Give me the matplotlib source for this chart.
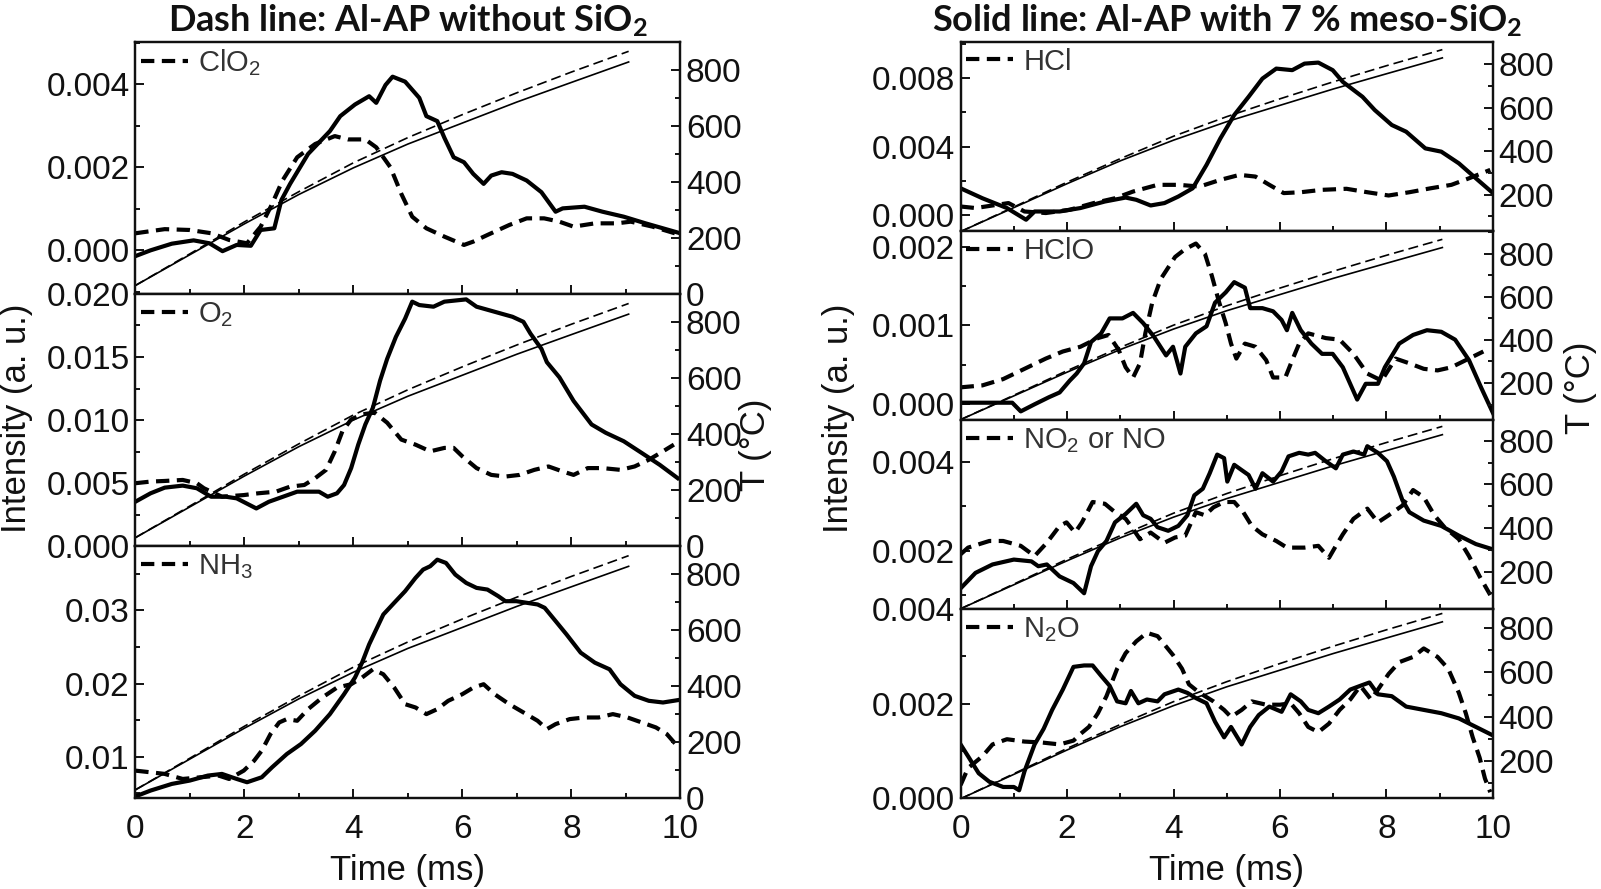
import numpy as np
import matplotlib
matplotlib.use("Agg")
import matplotlib.pyplot as plt
from matplotlib.ticker import MultipleLocator, FormatStrFormatter

plt.rcParams['font.family'] = ['Liberation Sans', 'DejaVu Sans']
plt.rcParams['mathtext.fontset'] = 'custom'
plt.rcParams['mathtext.rm'] = 'Liberation Sans'

# ── temperature profiles (thin lines, right axis) ─────────────────────────
t_temp = [0, 1, 2, 3, 4, 5, 6, 7, 8, 9.05]
temp_with = [30, 140, 250, 355, 450, 535, 610, 685, 755, 828]
temp_without = [30, 143, 257, 365, 468, 558, 640, 718, 792, 866]

# ── ClO2 ──────────────────────────────────────────────────────────────────
clo2_x_dash = [0, 0.54, 1.0, 1.4, 1.72, 2.05, 2.3, 2.5, 2.7, 2.97, 3.3, 3.66, 3.9, 4.22, 4.42, 4.68,
               4.88, 5.08, 5.34, 5.67, 6.03, 6.2, 6.46, 6.86, 7.18, 7.5, 7.78, 8.04, 8.43, 8.83,
               9.09, 9.49, 10]
clo2_dash = [0.41, 0.51, 0.49, 0.41, 0.25, 0.17, 0.57, 1.09, 1.68, 2.24, 2.56, 2.75, 2.67, 2.67,
             2.48, 2.0, 1.36, 0.81, 0.53, 0.33, 0.13, 0.21, 0.37, 0.61, 0.77, 0.77, 0.69, 0.57,
             0.65, 0.65, 0.69, 0.57, 0.37]
clo2_x_solid = [0, 0.28, 0.67, 1.07, 1.36, 1.6, 1.86, 2.12, 2.3, 2.55, 2.68, 2.84, 3.17, 3.57, 3.76,
                4.03, 4.29, 4.42, 4.59, 4.72, 4.95, 5.21, 5.34, 5.54, 5.67, 5.84, 6.03, 6.2, 6.39,
                6.53, 6.72, 6.92, 7.18, 7.45, 7.71, 7.84, 8.24, 8.57, 8.96, 9.36, 10]
clo2_solid = [-0.14, 0.0, 0.16, 0.24, 0.17, -0.02, 0.13, 0.11, 0.49, 0.53, 1.21, 1.6, 2.32, 2.87,
              3.23, 3.51, 3.71, 3.55, 3.98, 4.18, 4.06, 3.67, 3.23, 3.11, 2.71, 2.24, 2.12, 1.84,
              1.6, 1.8, 1.88, 1.84, 1.68, 1.4, 0.93, 1.01, 1.05, 0.93, 0.81, 0.65, 0.41]

# ── O2 ────────────────────────────────────────────────────────────────────
o2_x_dash = [0, 0.28, 0.54, 0.87, 1.13, 1.26, 1.59, 1.99, 2.25, 2.58, 2.84, 3.1, 3.3, 3.5, 3.66,
             3.8, 3.96, 4.16, 4.39, 4.62, 4.88, 5.14, 5.41, 5.67, 5.84, 6.0, 6.26, 6.53, 6.79,
             7.05, 7.32, 7.58, 7.84, 8.04, 8.3, 8.57, 8.9, 9.16, 9.42, 9.68, 9.88]
o2_dash = [4.99, 5.12, 5.17, 5.25, 4.99, 4.59, 3.92, 4.05, 4.19, 4.32, 4.72, 4.85, 5.39, 6.05,
           7.52, 9.12, 10.05, 10.45, 10.59, 9.79, 8.45, 8.05, 7.52, 7.79, 7.79, 7.12, 6.19, 5.65,
           5.52, 5.65, 6.05, 6.32, 5.92, 5.65, 6.19, 6.19, 6.05, 6.32, 6.85, 7.52, 8.05]
o2_x_solid = [0, 0.28, 0.54, 0.87, 1.13, 1.39, 1.66, 1.86, 2.22, 2.45, 2.71, 2.97, 3.37, 3.53, 3.7,
              3.83, 3.96, 4.09, 4.22, 4.36, 4.49, 4.62, 4.78, 4.95, 5.08, 5.21, 5.47, 5.67, 6.07,
              6.26, 6.59, 6.92, 7.12, 7.25, 7.45, 7.55, 7.78, 8.04, 8.37, 8.63, 8.96, 9.29, 9.62,
              9.95]
o2_solid = [3.52, 4.19, 4.64, 4.8, 4.59, 3.92, 3.92, 3.79, 2.99, 3.52, 3.92, 4.32, 4.32, 3.92,
            4.19, 4.85, 6.19, 8.05, 9.65, 10.99, 13.12, 14.85, 16.59, 18.05, 19.39, 19.12, 18.99,
            19.39, 19.57, 18.99, 18.59, 18.19, 17.79, 16.85, 15.65, 14.59, 13.39, 11.52, 9.65,
            8.99, 8.32, 7.39, 6.45, 5.39]

# ── NH3 ───────────────────────────────────────────────────────────────────
nh3_x_dash = [0, 0.28, 0.54, 0.87, 1.2, 1.53, 1.72, 1.99, 2.18, 2.32, 2.48, 2.64, 2.78, 2.97, 3.17,
              3.43, 3.7, 3.96, 4.16, 4.36, 4.55, 4.75, 4.95, 5.14, 5.34, 5.54, 5.74, 6.0, 6.2,
              6.39, 6.59, 6.86, 7.12, 7.38, 7.55, 7.71, 7.97, 8.24, 8.5, 8.76, 9.03, 9.29, 9.55,
              9.75, 9.91]
nh3_dash = [8.09, 7.86, 7.64, 6.95, 7.18, 7.41, 6.95, 8.09, 9.45, 10.82, 13.09, 14.68, 15.14,
            14.91, 16.5, 18.09, 19.45, 19.91, 20.82, 21.95, 21.27, 19.45, 17.18, 16.73, 15.82,
            16.5, 17.64, 18.55, 19.45, 19.91, 18.55, 17.18, 16.05, 14.91, 13.77, 14.45, 15.14,
            15.36, 15.36, 15.82, 15.36, 14.68, 14.0, 13.09, 11.73]
nh3_x_solid = [0, 0.28, 0.67, 1.0, 1.33, 1.59, 1.86, 2.05, 2.32, 2.51, 2.78, 3.04, 3.3, 3.57, 3.83,
               4.03, 4.16, 4.29, 4.42, 4.55, 4.75, 4.95, 5.14, 5.28, 5.41, 5.54, 5.7, 5.87, 6.07,
               6.26, 6.46, 6.66, 6.79, 6.99, 7.18, 7.38, 7.51, 7.71, 7.91, 8.17, 8.43, 8.7, 8.9,
               9.16, 9.42, 9.68, 9.95]
nh3_solid = [4.55, 5.36, 6.27, 6.73, 7.41, 7.64, 6.95, 6.5, 7.18, 8.55, 10.36, 11.73, 13.55,
             15.82, 18.55, 20.82, 22.86, 25.36, 27.41, 29.45, 31.05, 32.64, 34.45, 35.59, 36.05,
             36.95, 36.5, 34.91, 33.77, 33.09, 32.86, 31.95, 31.27, 31.27, 31.05, 30.82, 30.36,
             28.55, 26.73, 24.23, 22.86, 21.95, 19.91, 18.32, 17.64, 17.41, 17.73]

# ── HCl ───────────────────────────────────────────────────────────────────
hcl_x_dash = [0, 0.28, 0.9, 1.2, 1.6, 2.05, 2.5, 2.9, 3.24, 3.7, 4.1, 4.49, 4.88, 5.24, 5.54, 5.8,
              6.07, 6.39, 6.79, 7.25, 7.64, 8.04, 8.43, 8.83, 9.22, 9.55, 9.95]
hcl_dash = [0.52, 0.43, 0.72, 0.23, 0.14, 0.33, 0.72, 1.0, 1.39, 1.78, 1.78, 1.68, 2.07, 2.36,
            2.26, 1.78, 1.3, 1.35, 1.49, 1.55, 1.35, 1.16, 1.35, 1.58, 1.78, 2.16, 2.65]
hcl_x_solid = [0, 0.41, 0.87, 1.23, 1.39, 1.86, 2.25, 2.71, 3.1, 3.3, 3.57, 3.83, 4.09, 4.36, 4.62,
               4.88, 5.14, 5.41, 5.67, 5.93, 6.23, 6.46, 6.72, 6.99, 7.18, 7.55, 7.78, 8.1, 8.37,
               8.73, 9.03, 9.36, 9.68, 10]
hcl_solid = [1.58, 1.0, 0.43, -0.25, 0.23, 0.23, 0.43, 0.81, 1.04, 0.91, 0.58, 0.72, 1.1, 1.58,
             2.94, 4.48, 5.84, 6.9, 7.96, 8.54, 8.45, 8.83, 8.89, 8.45, 7.77, 6.9, 6.13, 5.26,
             4.87, 3.9, 3.71, 3.03, 2.16, 1.3]

# ── HClO ──────────────────────────────────────────────────────────────────
hclo_x_dash = [0, 0.41, 0.8, 1.2, 1.6, 1.92, 2.25, 2.58, 2.78, 2.97, 3.1, 3.24, 3.37, 3.47, 3.6,
               3.76, 4.03, 4.22, 4.42, 4.59, 4.72, 4.85, 4.98, 5.08, 5.18, 5.34, 5.54, 5.74, 5.87,
               6.1, 6.23, 6.36, 6.53, 6.86, 7.12, 7.38, 7.64, 7.91, 8.17, 8.43, 8.7, 8.96, 9.22,
               9.49, 9.82]
hclo_dash = [0.215, 0.24, 0.32, 0.45, 0.58, 0.67, 0.73, 0.84, 0.88, 0.69, 0.47, 0.34, 0.52, 0.9,
             1.29, 1.59, 1.87, 1.97, 2.04, 1.91, 1.63, 1.31, 1.03, 0.77, 0.58, 0.77, 0.73, 0.56,
             0.34, 0.34, 0.56, 0.77, 0.9, 0.84, 0.82, 0.64, 0.39, 0.3, 0.58, 0.52, 0.45, 0.43,
             0.47, 0.56, 0.67]
hclo_x_solid = [0, 0.41, 0.97, 1.13, 1.39, 1.66, 1.86, 2.05, 2.18, 2.32, 2.45, 2.64, 2.8, 3.04,
                3.24, 3.43, 3.63, 3.86, 3.99, 4.13, 4.22, 4.42, 4.62, 4.78, 4.98, 5.14, 5.34, 5.44,
                5.67, 5.87, 6.03, 6.13, 6.23, 6.39, 6.59, 6.79, 6.99, 7.18, 7.45, 7.61, 7.84, 7.97,
                8.24, 8.5, 8.76, 9.03, 9.29, 9.55, 9.78, 10]
hclo_solid = [0.02, 0.02, 0.02, -0.09, 0.0, 0.09, 0.15, 0.3, 0.39, 0.52, 0.79, 0.9, 1.09, 1.09,
              1.16, 1.03, 0.86, 0.62, 0.73, 0.39, 0.73, 0.9, 0.99, 1.29, 1.42, 1.55, 1.48, 1.22,
              1.22, 1.18, 1.07, 0.94, 1.16, 0.94, 0.77, 0.64, 0.64, 0.47, 0.06, 0.26, 0.26, 0.47,
              0.77, 0.88, 0.94, 0.92, 0.82, 0.56, 0.21, -0.11]

# ── NO2 or NO ─────────────────────────────────────────────────────────────
no2_x_dash = [0, 0.14, 0.54, 0.8, 1.13, 1.39, 1.62, 1.86, 1.99, 2.15, 2.28, 2.48, 2.71, 2.9, 3.1,
              3.24, 3.37, 3.57, 3.83, 4.03, 4.22, 4.42, 4.59, 4.75, 4.95, 5.14, 5.31, 5.47, 5.67,
              5.93, 6.13, 6.46, 6.72, 6.92, 7.05, 7.18, 7.38, 7.64, 7.84, 8.04, 8.3, 8.5, 8.7,
              8.9, 9.09, 9.36, 9.55, 9.75, 9.95]
no2_dash = [1.92, 2.07, 2.22, 2.22, 2.11, 1.88, 2.18, 2.56, 2.64, 2.41, 2.64, 3.1, 3.06, 2.87,
            2.72, 2.49, 2.26, 2.41, 2.18, 2.3, 2.34, 2.87, 2.8, 2.98, 3.1, 3.1, 2.87, 2.56, 2.37,
            2.22, 2.07, 2.07, 2.11, 1.84, 2.11, 2.37, 2.72, 2.95, 2.64, 2.8, 3.02, 3.37, 3.21,
            2.8, 2.53, 2.26, 1.88, 1.42, 1.0]
no2_x_solid = [0, 0.28, 0.6, 1.0, 1.33, 1.46, 1.62, 1.86, 2.12, 2.32, 2.45, 2.58, 2.74, 2.9, 3.1,
               3.3, 3.43, 3.57, 3.7, 3.9, 4.09, 4.26, 4.39, 4.55, 4.68, 4.82, 4.95, 5.01, 5.14,
               5.28, 5.41, 5.54, 5.67, 5.87, 6.03, 6.16, 6.36, 6.53, 6.66, 6.86, 7.05, 7.18, 7.38,
               7.58, 7.64, 7.84, 8.01, 8.14, 8.3, 8.43, 8.7, 9.03, 9.36, 9.68, 10]
no2_solid = [1.15, 1.5, 1.69, 1.8, 1.76, 1.65, 1.69, 1.42, 1.27, 1.04, 1.65, 1.99, 2.22, 2.64,
             2.83, 3.06, 2.8, 2.72, 2.53, 2.45, 2.56, 2.8, 3.25, 3.4, 3.75, 4.17, 4.09, 3.56, 3.94,
             3.82, 3.71, 3.4, 3.75, 3.56, 3.79, 4.13, 4.21, 4.17, 4.21, 4.02, 3.86, 4.17, 4.24,
             4.17, 4.36, 4.21, 4.02, 3.67, 3.14, 2.87, 2.68, 2.56, 2.34, 2.15, 2.03]

# ── N2O ───────────────────────────────────────────────────────────────────
n2o_x_dash = [0, 0.14, 0.41, 0.6, 0.87, 1.2, 1.53, 1.86, 2.12, 2.25, 2.41, 2.58, 2.74, 2.94, 3.1,
              3.3, 3.5, 3.7, 3.86, 3.99, 4.16, 4.29, 4.49, 4.75, 4.95, 5.08, 5.28, 5.47, 5.74,
              6.0, 6.2, 6.36, 6.53, 6.72, 6.92, 7.12, 7.32, 7.51, 7.71, 7.84, 8.04, 8.24, 8.5,
              8.7, 8.96, 9.16, 9.36, 9.49, 9.62, 9.75, 9.85, 9.95]
n2o_dash = [0.28, 0.64, 0.89, 1.14, 1.25, 1.2, 1.18, 1.14, 1.22, 1.36, 1.51, 1.8, 2.16, 2.74,
            3.07, 3.32, 3.5, 3.43, 3.21, 3.03, 2.74, 2.41, 2.23, 2.05, 1.87, 1.72, 1.87, 2.05,
            1.98, 1.98, 2.01, 1.8, 1.51, 1.4, 1.58, 1.87, 2.09, 2.38, 2.09, 2.3, 2.63, 2.88,
            2.99, 3.17, 2.99, 2.74, 2.23, 1.8, 1.29, 0.86, 0.42, 0.13]
n2o_x_solid = [0, 0.14, 0.34, 0.54, 0.8, 1.0, 1.1, 1.2, 1.39, 1.56, 1.72, 1.92, 2.12, 2.32, 2.48,
               2.64, 2.8, 2.94, 3.1, 3.2, 3.34, 3.5, 3.7, 3.83, 4.09, 4.26, 4.42, 4.62, 4.78,
               4.95, 5.08, 5.28, 5.44, 5.6, 5.8, 6.03, 6.2, 6.39, 6.53, 6.72, 6.92, 7.12, 7.32,
               7.51, 7.68, 7.84, 8.1, 8.37, 8.7, 9.03, 9.36, 9.68, 10]
n2o_solid = [1.14, 0.89, 0.53, 0.35, 0.24, 0.24, 0.17, 0.57, 1.14, 1.47, 1.87, 2.3, 2.78, 2.81,
             2.81, 2.59, 2.38, 2.05, 2.01, 2.27, 2.01, 2.09, 2.05, 2.2, 2.3, 2.23, 2.12, 2.01,
             1.62, 1.29, 1.51, 1.14, 1.51, 1.76, 1.94, 1.83, 2.2, 2.05, 1.87, 1.8, 1.94, 2.09,
             2.3, 2.38, 2.45, 2.2, 2.16, 1.94, 1.87, 1.8, 1.69, 1.51, 1.33]

SUB = r'$\mathregular{_%s}$'

# label, x/y dash, x/y solid, ylim, major, minor, fmt, T ylim
left_panels = [
    ('ClO' + SUB % 2, clo2_x_dash, clo2_dash, clo2_x_solid, clo2_solid,
     (-0.00105, 0.00502), 0.002, 0.001, '%.3f', (0, 900)),
    ('O' + SUB % 2, o2_x_dash, o2_dash, o2_x_solid, o2_solid,
     (0.0, 0.020), 0.005, 0.0025, '%.3f', (0, 900)),
    ('NH' + SUB % 3, nh3_x_dash, nh3_dash, nh3_x_solid, nh3_solid,
     (0.0043, 0.0388), 0.01, 0.005, '%.2f', (0, 900)),
]
right_panels = [
    ('HCl', hcl_x_dash, hcl_dash, hcl_x_solid, hcl_solid,
     (-0.0009, 0.0101), 0.004, 0.002, '%.3f', (33, 902)),
    ('HClO', hclo_x_dash, hclo_dash, hclo_x_solid, hclo_solid,
     (-0.0002, 0.0022), 0.001, 0.0005, '%.3f', (28, 905)),
    ('NO' + SUB % 2 + ' or NO', no2_x_dash, no2_dash, no2_x_solid, no2_solid,
     (0.00068, 0.00495), 0.002, 0.001, '%.3f', (28, 895)),
    ('N' + SUB % 2 + 'O', n2o_x_dash, n2o_dash, n2o_x_solid, n2o_solid,
     (0.0, 0.004), 0.002, 0.001, '%.3f', (32, 885)),
]

TXT = "#111111"
FS = 24

fig = plt.figure(figsize=(16.01, 8.89), dpi=100, facecolor="white")


def style_axis(ax):
    for s in ax.spines.values():
        s.set_linewidth(1.6)
        s.set_color(TXT)
    ax.tick_params(which='both', direction='in', width=1.4, colors=TXT,
                   labelsize=FS, top=False)
    ax.tick_params(which='major', length=6.5)
    ax.tick_params(which='minor', length=3.5)


def draw_column(panels, x0, x1, y0, y1):
    n = len(panels)
    h = (y1 - y0) / n
    axes = []
    for i, (lab, xd, yd, xs, ys, ylim, maj, mnr, fmt, tlim) in enumerate(panels):
        ax = fig.add_axes([x0, y1 - (i + 1) * h, x1 - x0, h])
        ax.plot(xs, np.array(ys) * 1e-3, color='black', lw=3.0, solid_joinstyle='round')
        ax.plot(xd, np.array(yd) * 1e-3, color='black', lw=3.0, dashes=(3.2, 1.8),
                label=lab)
        ax.set_xlim(0, 10)
        ax.set_ylim(*ylim)
        ax.xaxis.set_major_locator(MultipleLocator(2))
        ax.xaxis.set_minor_locator(MultipleLocator(1))
        ax.yaxis.set_major_locator(MultipleLocator(maj))
        ax.yaxis.set_minor_locator(MultipleLocator(mnr))
        ax.yaxis.set_major_formatter(FormatStrFormatter(fmt))
        style_axis(ax)
        ax.tick_params(axis='y', right=False, pad=4)
        ax.tick_params(axis='x', pad=11)
        if i < n - 1:
            ax.tick_params(axis='x', labelbottom=False)
        leg = ax.legend(loc='upper left', frameon=False, fontsize=21, handlelength=1.6,
                        handletextpad=0.35, borderaxespad=0.1, borderpad=0.1)
        for t in leg.get_texts():
            t.set_color('#333333')

        axt = ax.twinx()
        axt.plot(t_temp, temp_with, color='black', lw=1.2)
        axt.plot(t_temp, temp_without, color='black', lw=1.2, dashes=(6, 3))
        axt.set_ylim(*tlim)
        axt.yaxis.set_major_locator(MultipleLocator(200))
        axt.yaxis.set_minor_locator(MultipleLocator(100))
        style_axis(axt)
        axt.tick_params(axis='x', bottom=False, labelbottom=False)
        axt.tick_params(axis='y', pad=4)
        axes.append(ax)
    axes[-1].set_xlabel('Time (ms)', fontsize=25, color=TXT, labelpad=7)
    return axes


TOP, BOT = 0.953, 0.102
draw_column(left_panels, 0.0845, 0.425, BOT, TOP)
draw_column(right_panels, 0.600, 0.9325, BOT, TOP)

# titles
fig.text(0.2548, 0.977, r'Dash line: Al-AP without SiO$\mathregular{_2}$', family='Lato',
         weight='bold', fontsize=26, ha='center', va='center', color=TXT)
fig.text(0.7663, 0.977, r'Solid line: Al-AP with 7 % meso-SiO$\mathregular{_2}$', family='Lato',
         weight='bold', fontsize=26, ha='center', va='center', color=TXT)

# axis labels
fig.text(0.010, 0.53, 'Intensity (a. u.)', rotation=90, fontsize=25, ha='center',
         va='center', color=TXT)
fig.text(0.524, 0.53, 'Intensity (a. u.)', rotation=90, fontsize=25, ha='center',
         va='center', color=TXT)
fig.text(0.472, 0.50, 'T (°C)', rotation=90, fontsize=25, ha='center', va='center', color=TXT)
fig.text(0.987, 0.564, 'T (°C)', rotation=90, fontsize=25, ha='center', va='center', color=TXT)

fig.savefig('out.png', dpi=100, facecolor='white')
